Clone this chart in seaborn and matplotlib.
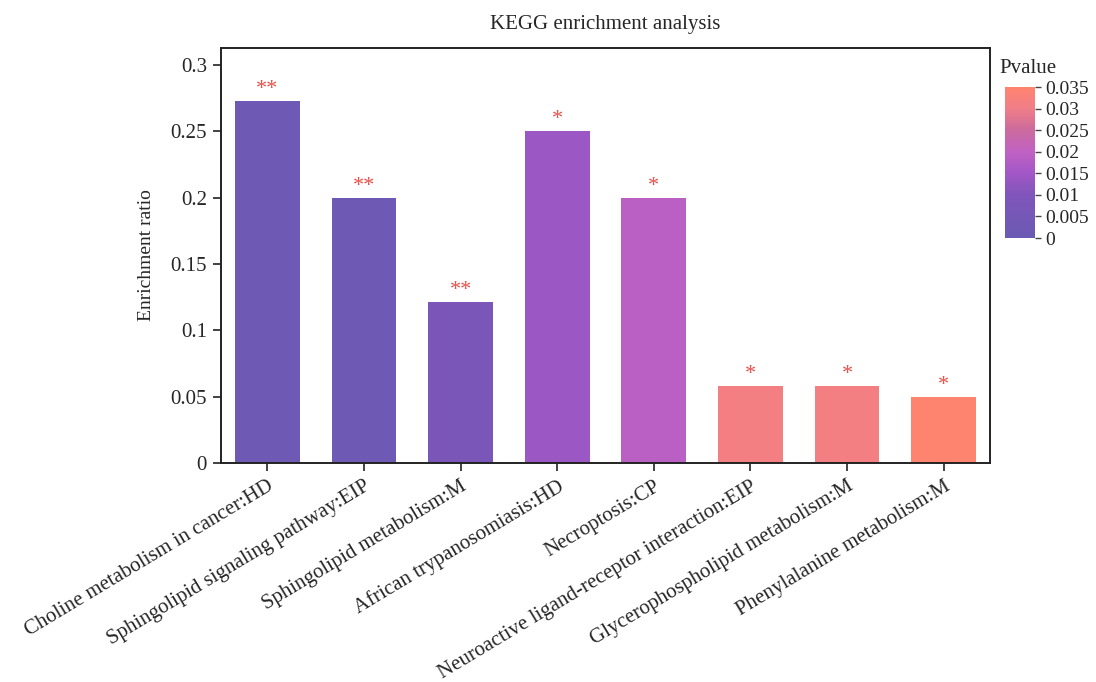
import numpy as np
import pandas as pd
import matplotlib
matplotlib.use("Agg")
import matplotlib.pyplot as plt
import seaborn as sns
from matplotlib.colors import LinearSegmentedColormap, Normalize

terms = [
    "Choline metabolism in cancer:HD",
    "Sphingolipid signaling pathway:EIP",
    "Sphingolipid metabolism:M",
    "African trypanosomiasis:HD",
    "Necroptosis:CP",
    "Neuroactive ligand-receptor interaction:EIP",
    "Glycerophospholipid metabolism:M",
    "Phenylalanine metabolism:M",
]
ratio = [0.273, 0.200, 0.121, 0.250, 0.200, 0.058, 0.058, 0.050]
pvalue = [0.002, 0.002, 0.007, 0.014, 0.019, 0.031, 0.031, 0.035]
stars = ["**", "**", "**", "*", "*", "*", "*", "*"]

df = pd.DataFrame({"term": terms, "ratio": ratio, "p": pvalue, "star": stars})

sns.set_theme(style="ticks")
plt.rcParams["font.family"] = ["Liberation Serif", "DejaVu Serif"]

cmap = LinearSegmentedColormap.from_list(
    "pv",
    [(0.0, "#6A5AB3"), (0.28, "#7F55BA"), (0.43, "#A257C6"),
     (0.57, "#C062C4"), (0.72, "#CC6A9C"), (0.86, "#F07E88"), (1.0, "#FF8470")],
)
norm = Normalize(vmin=0, vmax=0.035)
colors = [cmap(norm(p)) for p in df["p"]]

fig = plt.figure(figsize=(10.96, 6.82), dpi=100)
ax = fig.add_axes([0.2016, 0.321, 0.7017, 0.6086])

sns.barplot(data=df, x="term", y="ratio", hue="term", palette=colors,
            legend=False, width=0.67, saturation=1, linewidth=0, ax=ax)

for i, row in df.iterrows():
    ax.text(i, row["ratio"] + 0.0015, row["star"], ha="center", va="bottom",
            color="#E8504A", fontsize=16)

ax.set_xlim(-0.48, 7.48)
ax.set_ylim(0, 0.3127)
ax.set_yticks([0, 0.05, 0.1, 0.15, 0.2, 0.25, 0.3])
ax.set_yticklabels(["0", "0.05", "0.1", "0.15", "0.2", "0.25", "0.3"])
ax.set_xlabel("")
ax.set_ylabel("Enrichment ratio", fontsize=14, labelpad=11)
ax.set_title("KEGG enrichment analysis", fontsize=15, pad=14)
ax.tick_params(axis="y", labelsize=15, direction="out", length=6, width=1.2,
               color="#222222", pad=4)
ax.tick_params(axis="x", labelsize=15, direction="out", length=6, width=1.2,
               color="#222222", pad=4)
plt.setp(ax.get_xticklabels(), rotation=31, ha="right", rotation_mode="anchor")
for s in ax.spines.values():
    s.set_linewidth(1.4)
    s.set_color("#222222")

cax = fig.add_axes([0.917, 0.651, 0.027, 0.221])
sm = plt.cm.ScalarMappable(cmap=cmap, norm=norm)
cb = fig.colorbar(sm, cax=cax)
cb.outline.set_visible(False)
cb.set_ticks([0, 0.005, 0.01, 0.015, 0.02, 0.025, 0.03, 0.035])
cb.set_ticklabels(["0", "0.005", "0.01", "0.015", "0.02", "0.025", "0.03", "0.035"])
cax.tick_params(labelsize=14, length=4, width=1, pad=4, color="#444444")
cax.set_title("Pvalue", fontsize=15, loc="left", x=-0.2, pad=10)

fig.savefig("out.png", dpi=100)
